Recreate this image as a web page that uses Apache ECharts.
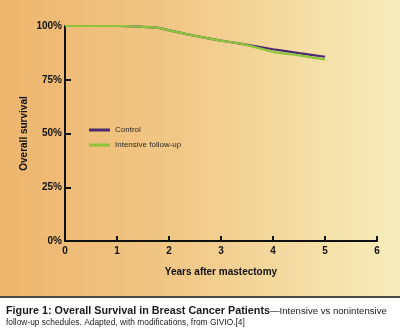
<!DOCTYPE html>
<html>
<head>
<meta charset="utf-8">
<style>
  html, body { margin: 0; padding: 0; background: #ffffff; }
  #chart { width: 400px; height: 331px; }
</style>
<script src="https://cdn.jsdelivr.net/npm/echarts@6/dist/echarts.min.js"></script>
</head>
<body>
<div id="chart"></div>
<script>
// Overall survival after mastectomy, two follow-up schedules
const years = [0, 1, 1.5, 1.8, 2, 2.5, 3, 3.4, 4, 4.5, 5];
const control = [100, 100, 99.6, 99.1, 98.0, 95.4, 93.2, 91.7, 89.2, 87.4, 85.7];
const intensive = [100, 100, 99.6, 99.1, 98.0, 95.4, 93.2, 91.7, 88.0, 86.3, 84.5];
const xTicks = [0, 1, 2, 3, 4, 5, 6];
const yTicks = [0, 25, 50, 75, 100];

const FONT = '"Liberation Sans", Arial, Helvetica, sans-serif';

const chart = echarts.init(document.getElementById('chart'), null, { renderer: 'canvas' });

const pairs = (ys) => years.map((x, i) => [x, ys[i]]);

chart.setOption({
  backgroundColor: '#ffffff',
  animation: false,
  graphic: [
    {
      type: 'rect', z: -10, silent: true,
      shape: { x: 0, y: 0, width: 400, height: 297 },
      style: {
        fill: new echarts.graphic.LinearGradient(0, 0, 1, 0, [
          { offset: 0, color: '#edb56e' },
          { offset: 0.45, color: '#f1c887' },
          { offset: 0.8, color: '#f5e0a8' },
          { offset: 1, color: '#f6edbd' }
        ])
      }
    },
    {
      type: 'rect', z: -9, silent: true,
      shape: { x: 0, y: 296, width: 400, height: 2 },
      style: { fill: '#4d4a44' }
    },
    {
      type: 'text', left: 6, top: 306,
      style: {
        text: '{b|Figure 1: Overall Survival in Breast Cancer Patients}{n|\u2014Intensive vs nonintensive}\n{m|follow-up schedules. Adapted, with modifications, from GIVIO.[4]}',
        rich: {
          b: { fontFamily: FONT, fontSize: 10.8, fontWeight: 'bold', fill: '#1a1a1a', lineHeight: 11 },
          n: { fontFamily: FONT, fontSize: 9.6, fill: '#1a1a1a', lineHeight: 11 },
          m: { fontFamily: FONT, fontSize: 8.4, fill: '#1a1a1a', lineHeight: 11 }
        }
      }
    }
  ],
  grid: { left: 65, right: 23, top: 26, bottom: 90, containLabel: false },
  legend: {
    orient: 'vertical',
    left: 84, top: 120,
    icon: 'rect',
    itemWidth: 21, itemHeight: 3,
    itemGap: 5,
    textStyle: { fontFamily: FONT, fontSize: 8, color: '#2a2a2a', lineHeight: 10 },
    data: ['Control', 'Intensive follow-up']
  },
  xAxis: {
    type: 'value',
    min: 0, max: 6, interval: 1,
    name: 'Years after mastectomy',
    nameLocation: 'middle',
    nameGap: 26,
    nameMoveOverlap: false,
    nameTextStyle: { fontFamily: FONT, fontSize: 10, fontWeight: 'bold', color: '#111' },
    axisLine: { show: true, lineStyle: { color: '#111', width: 2 } },
    axisTick: { show: true, inside: true, length: 5, lineStyle: { color: '#111', width: 2 } },
    axisLabel: {
      margin: 5, fontFamily: FONT, fontSize: 10, fontWeight: 'bold', color: '#111',
      formatter: (v) => (xTicks.includes(v) ? String(v) : '')
    },
    splitLine: { show: false }
  },
  yAxis: {
    type: 'value',
    min: 0, max: 100, interval: 25,
    name: 'Overall survival',
    nameLocation: 'middle',
    nameGap: 36,
    nameMoveOverlap: false,
    nameTextStyle: { fontFamily: FONT, fontSize: 10, fontWeight: 'bold', color: '#111' },
    axisLine: { show: true, lineStyle: { color: '#111', width: 2 } },
    axisTick: { show: true, inside: true, length: 6, lineStyle: { color: '#111', width: 2 } },
    axisLabel: {
      margin: 3, fontFamily: FONT, fontSize: 10, fontWeight: 'bold', color: '#111',
      formatter: (v) => (yTicks.includes(v) ? v + '%' : '')
    },
    splitLine: { show: false }
  },
  series: [
    {
      name: 'Control',
      type: 'line',
      data: pairs(control),
      showSymbol: false, symbol: 'none',
      smooth: 0.2,
      color: '#4a2a6e',
      lineStyle: { color: '#4a2a6e', width: 2.2 },
      z: 2
    },
    {
      name: 'Intensive follow-up',
      type: 'line',
      data: pairs(intensive),
      showSymbol: false, symbol: 'none',
      smooth: 0.2,
      color: '#8cc43c',
      lineStyle: { color: '#8cc43c', width: 2.2 },
      z: 3
    }
  ]
});
</script>
</body>
</html>
